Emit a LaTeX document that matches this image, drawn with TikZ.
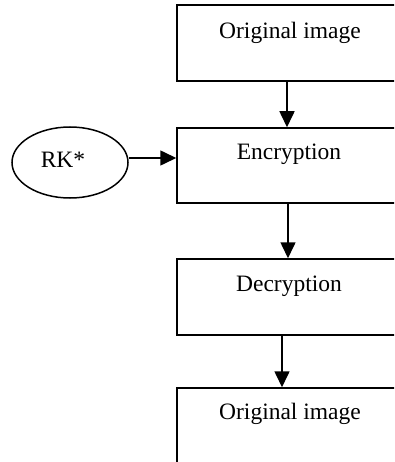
\documentclass[tikz,border=0pt]{standalone}
\usepackage{fontspec}
\setmainfont{Liberation Serif}
\usetikzlibrary{shapes.geometric,arrows.meta}
\begin{document}
\begin{tikzpicture}[x=1pt,y=-1pt,
  box/.style={draw,line width=1.5pt,rectangle,minimum width=226pt,minimum height=76pt,inner sep=0pt},
  lbl/.style={font=\fontsize{23.5}{26}\selectfont,inner sep=0pt},
  arr/.style={line width=1.6pt,-{Triangle[length=16pt,width=15pt]}}]
\useasboundingbox (0,0) rectangle (394,462);
\clip (0,0) rectangle (394,462);
\node[box] (b1) at (290,43) {};
\node[lbl] (t1) at (290,33) {Original image};
\node[box,minimum height=75pt] (b2) at (290,165.5) {};
\node[lbl] (t2) at (289,154) {Encryption};
\node[box] (b3) at (290,297) {};
\node[lbl] (t3) at (289,286) {Decryption};
\node[box] (b4) at (290,426) {};
\node[lbl] (t4) at (290,414) {Original image};
\node[draw,ellipse,line width=1.5pt,minimum width=116pt,minimum height=71pt,inner sep=0pt] (e) at (70,162.5) {};
\node[lbl] (k) at (63,160) {RK*};
\draw[arr] ([xshift=-3pt]b1.south) -- ([xshift=-3pt]b2.north);
\draw[arr] ([xshift=-2pt]b2.south) -- ([xshift=-2pt]b3.north);
\draw[arr] ([xshift=-8pt]b3.south) -- ([xshift=-8pt]b4.north);
\coordinate (ke) at ([yshift=4.5pt]e.east);
\draw[arr] (ke) -- (ke -| b2.west);
\end{tikzpicture}
\end{document}
